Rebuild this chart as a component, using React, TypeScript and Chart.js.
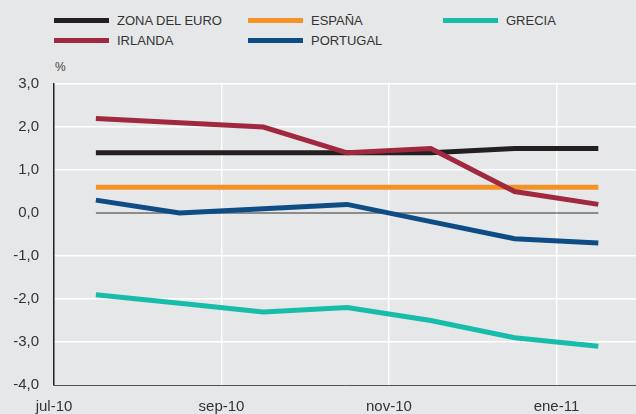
import React, { useEffect, useRef } from "react";
import { Chart, registerables } from "chart.js";

Chart.register(...registerables);

// x positions in months from jul-10 (mid-month points)
const months = [0.5, 1.5, 2.5, 3.5, 4.5, 5.5, 6.5];
const tickLabels: Record<number, string> = { 0: "jul-10", 2: "sep-10", 4: "nov-10", 6: "ene-11" };

const zonaEuro = [1.4, 1.4, 1.4, 1.4, 1.4, 1.5, 1.5];
const espana = [0.6, 0.6, 0.6, 0.6, 0.6, 0.6, 0.6];
const grecia = [-1.9, -2.1, -2.3, -2.2, -2.5, -2.9, -3.1];
const irlanda = [2.2, 2.1, 2.0, 1.4, 1.5, 0.5, 0.2];
const portugal = [0.3, 0.0, 0.1, 0.2, -0.2, -0.6, -0.7];
const cero = [0, 0, 0, 0, 0, 0, 0];

const series = [
  { label: "ZONA DEL EURO", data: zonaEuro, color: "#231f20" },
  { label: "ESPAÑA", data: espana, color: "#f39325" },
  { label: "GRECIA", data: grecia, color: "#17bcaa" },
  { label: "IRLANDA", data: irlanda, color: "#a0283f" },
  { label: "PORTUGAL", data: portugal, color: "#0e4c86" },
];

const FONT = "'Liberation Sans', Arial, Helvetica, sans-serif";

export default function App() {
  const ref = useRef<HTMLCanvasElement | null>(null);

  useEffect(() => {
    if (!ref.current) return;
    const toPts = (arr: number[]) => arr.map((v, i) => ({ x: months[i], y: v }));
    const drawOrder: Record<string, number> = {
      "IRLANDA": 1,
      "PORTUGAL": 2,
      "ZONA DEL EURO": 3,
      "ESPAÑA": 4,
      "GRECIA": 5,
    };
    const chart = new Chart(ref.current, {
      type: "line",
      data: {
        datasets: [
          ...series.map((s) => ({
            label: s.label,
            data: toPts(s.data),
            borderColor: s.color,
            backgroundColor: s.color,
            borderWidth: 5,
            pointRadius: 0,
            tension: 0,
            order: drawOrder[s.label],
          })),
          {
            label: "cero",
            data: toPts(cero),
            borderColor: "#333333",
            borderWidth: 1.2,
            pointRadius: 0,
            order: 10,
          },
        ],
      },
      options: {
        animation: false,
        responsive: false,
        layout: { padding: { top: 84, right: 0, left: 0, bottom: 0 } },
        plugins: { legend: { display: false }, tooltip: { enabled: false } },
        scales: {
          x: {
            type: "linear",
            min: 0,
            max: 6.95,
            afterBuildTicks: (scale: any) => {
              scale.ticks = [0, 2, 4, 6].map((v) => ({ value: v }));
            },
            afterFit: (scale: any) => {
              scale.height = 29;
            },
            ticks: {
              padding: 13,
              color: "#333333",
              font: { family: FONT, size: 15 },
              maxRotation: 0,
              callback: (v: any) => tickLabels[v as number] ?? "",
            },
            grid: {
              drawTicks: false,
              color: (ctx: any) => (ctx.tick && ctx.tick.value === 0 ? "rgba(0,0,0,0)" : "#ffffff"),
              lineWidth: 1.5,
            },
            border: { color: "#555555", width: 1 },
          },
          y: {
            min: -4,
            max: 3,
            afterFit: (scale: any) => {
              scale.width = 54;
            },
            ticks: {
              stepSize: 1,
              padding: 15,
              color: "#333333",
              font: { family: FONT, size: 15 },
              callback: (v: any) => Number(v).toFixed(1).replace(".", ","),
            },
            grid: {
              drawTicks: false,
              color: (ctx: any) =>
                ctx.tick && (ctx.tick.value === 0 || ctx.tick.value === -4) ? "rgba(0,0,0,0)" : "#ffffff",
              lineWidth: 1.5,
            },
            border: { color: "#222222", width: 1.5 },
          },
        },
      },
    });
    return () => chart.destroy();
  }, []);

  const legendRows = [
    [series[0], series[1], series[2]],
    [series[3], series[4]],
  ];
  const colLeft = [54, 248, 443];

  return (
    <div
      style={{
        position: "absolute",
        left: 0,
        top: 0,
        width: 636,
        height: 414,
        background: "#e6e7e8",
        fontFamily: FONT,
        overflow: "hidden",
      }}
    >
      {legendRows.map((row, ri) =>
        row.map((s, ci) => (
          <div
            key={s.label}
            style={{
              position: "absolute",
              left: colLeft[ci],
              top: 12 + ri * 20,
              height: 16,
              display: "flex",
              alignItems: "center",
              color: "#333333",
              fontSize: 13,
              whiteSpace: "nowrap",
            }}
          >
            <span style={{ display: "inline-block", width: 55, height: 5, background: s.color, marginRight: 8 }} />
            <span>{s.label}</span>
          </div>
        ))
      )}
      <div style={{ position: "absolute", left: 55, top: 60, fontSize: 12, color: "#444444" }}>%</div>
      <canvas ref={ref} width={636} height={414} style={{ position: "absolute", left: 0, top: 0 }} />
    </div>
  );
}
